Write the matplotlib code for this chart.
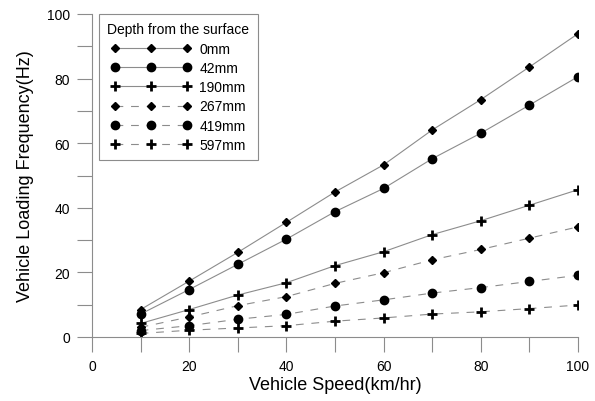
import matplotlib
matplotlib.use("Agg")
import matplotlib.pyplot as plt
from matplotlib.ticker import MultipleLocator

plt.rcParams['font.family'] = ['Liberation Sans', 'DejaVu Sans']

# vehicle speed (km/hr)
speed = [10, 20, 30, 40, 50, 60, 70, 80, 90, 100]

# loading frequency (Hz) at each depth
f_0mm = [8.5, 17.3, 26.2, 35.5, 44.9, 53.3, 64.1, 73.5, 83.6, 93.9]
f_42mm = [7.1, 14.7, 22.5, 30.3, 38.8, 46.0, 55.2, 63.1, 71.8, 80.6]
f_190mm = [4.2, 8.5, 13.0, 16.8, 22.1, 26.4, 31.7, 36.0, 40.8, 45.6]
f_267mm = [3.0, 6.2, 9.7, 12.5, 16.6, 19.9, 23.9, 27.1, 30.6, 34.1]
f_419mm = [2.0, 3.5, 5.5, 7.0, 9.6, 11.5, 13.6, 15.3, 17.2, 19.1]
f_597mm = [1.1, 2.1, 2.8, 3.5, 4.9, 5.9, 7.1, 7.8, 8.8, 9.9]

labels = ["0mm", "42mm", "190mm", "267mm", "419mm", "597mm"]

fig = plt.figure(figsize=(5.95, 4.02), dpi=100)
ax = fig.add_axes([92 / 595, 1 - 338 / 402, 486 / 595, 323 / 402])

line_col = '#8c8c8c'
dash = (7, 7)

ax.plot(speed, f_0mm, '-', color=line_col, lw=0.8, marker='D', ms=4.5,
        mfc='black', mec='black', label=labels[0])
ax.plot(speed, f_42mm, '-', color=line_col, lw=0.8, marker='o', ms=6,
        mfc='black', mec='black', label=labels[1])
ax.plot(speed, f_190mm, '-', color=line_col, lw=0.8, marker='+', ms=6.5, mew=2,
        mfc='black', mec='black', label=labels[2])
ax.plot(speed, f_267mm, '--', color=line_col, lw=0.8, dashes=dash, marker='D', ms=4.5,
        mfc='black', mec='black', label=labels[3])
ax.plot(speed, f_419mm, '--', color=line_col, lw=0.8, dashes=dash, marker='o', ms=6,
        mfc='black', mec='black', label=labels[4])
ax.plot(speed, f_597mm, '--', color=line_col, lw=0.8, dashes=dash, marker='+', ms=6.5, mew=2,
        mfc='black', mec='black', label=labels[5])

ax.set_xlim(0, 100)
ax.set_ylim(0, 100)
ax.xaxis.set_major_locator(MultipleLocator(20))
ax.xaxis.set_minor_locator(MultipleLocator(10))
ax.yaxis.set_major_locator(MultipleLocator(20))
ax.yaxis.set_minor_locator(MultipleLocator(10))

for side in ['top', 'right']:
    ax.spines[side].set_visible(False)
for side in ['left', 'bottom']:
    ax.spines[side].set_color(line_col)
    ax.spines[side].set_linewidth(0.8)

ax.tick_params(which='both', direction='out', length=11, width=0.8, color=line_col)
ax.tick_params(which='major', labelsize=10, pad=5)

ax.set_xlabel("Vehicle Speed(km/hr)", fontsize=13, labelpad=2)
ax.set_ylabel("Vehicle Loading Frequency(Hz)", fontsize=13, labelpad=9)

leg = ax.legend(title="Depth from the surface", loc='upper left',
                bbox_to_anchor=(7 / 486, 1.0), borderaxespad=0,
                fontsize=10, title_fontsize=10,
                numpoints=3, handlelength=5.8, handletextpad=0.6,
                labelspacing=0.38, borderpad=0.6, fancybox=False,
                framealpha=1, edgecolor=line_col)
leg.get_frame().set_linewidth(0.8)

plt.savefig("out.png", dpi=100)
